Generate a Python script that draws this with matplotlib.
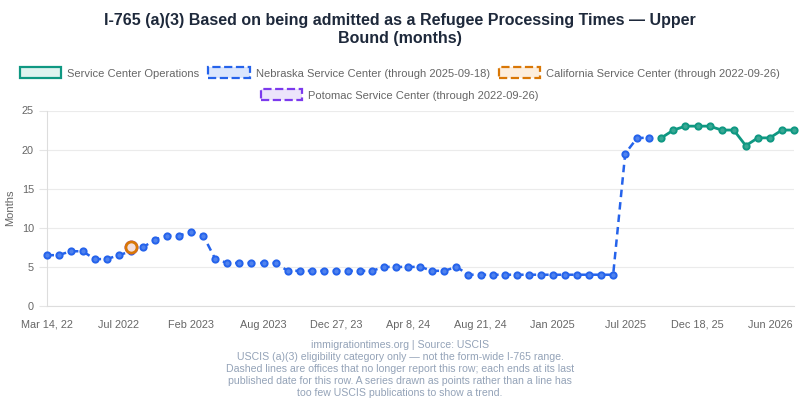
import matplotlib
matplotlib.use("Agg")
import matplotlib.pyplot as plt
from matplotlib.patches import Patch

plt.rcParams['font.family'] = ['Liberation Sans', 'DejaVu Sans']

# values (months, upper bound)
nebraska = [6.5, 6.5, 7, 7, 6, 6, 6.5, 7, 7.5, 8.5, 9, 9, 9.5, 9, 6, 5.5, 5.5, 5.5, 5.5,
            5.5, 4.5, 4.5, 4.5, 4.5, 4.5, 4.5, 4.5, 4.5, 5, 5, 5, 5, 4.5, 4.5, 5,
            4, 4, 4, 4, 4, 4, 4, 4, 4, 4, 4, 4, 4, 19.5, 21.5, 21.5]
operations = [21.5, 22.5, 23, 23, 23, 22.5, 22.5, 20.5, 21.5, 21.5, 22.5, 22.5]
california = [7.5]
potomac = [7.5]
california_idx = [7]
potomac_idx = [7]
tick_labels = ["Mar 14, 22", "Jul 2022", "Feb 2023", "Aug 2023", "Dec 27, 23", "Apr 8, 24",
               "Aug 21, 24", "Jan 2025", "Jul 2025", "Dec 18, 25", "Jun 2026"]

n_total = len(nebraska) + len(operations)
neb_x = list(range(len(nebraska)))
ops_x = list(range(len(nebraska), n_total))

BLUE = "#2563eb"
TEAL = "#0f9882"
ORANGE = "#d97706"
PURPLE = "#7c3aed"

fig = plt.figure(figsize=(8, 4), dpi=100)
ax = fig.add_axes([46.5 / 800, 94 / 400, 747.5 / 800, 195.5 / 400])

ax.plot(neb_x, nebraska, color=BLUE, lw=1.8, dashes=(3, 2), marker="o", ms=4.5,
        mfc="#4f82ee", mec=BLUE, mew=1.4, clip_on=False, zorder=3)
ax.plot(ops_x, operations, color=TEAL, lw=2, marker="o", ms=4.5,
        mfc="#3aa894", mec=TEAL, mew=1.4, clip_on=False, zorder=3)
ax.plot(potomac_idx, potomac, ls="none", marker="o", ms=8, mfc="#ece4fb",
        mec=PURPLE, mew=2, zorder=4)
ax.plot(california_idx, california, ls="none", marker="o", ms=8, mfc="#f3dede",
        mec=ORANGE, mew=2, zorder=5)

ax.set_xlim(0, n_total - 1)
ax.set_ylim(0, 25)
ax.set_yticks([0, 5, 10, 15, 20, 25])
ax.set_xticks(range(0, n_total, 6))
ax.set_xticklabels(tick_labels)
ax.tick_params(axis="x", length=0, pad=15.5, labelsize=7.8, colors="#666666")
for lbl in ax.get_xticklabels():
    lbl.set_verticalalignment("baseline")
ax.tick_params(axis="y", length=6, width=0.8, color="#e5e5e5", pad=3,
               labelsize=7.8, labelcolor="#666666")
ax.grid(axis="y", color="#ebebeb", lw=0.8)
ax.set_axisbelow(True)
for side in ["top", "right"]:
    ax.spines[side].set_visible(False)
for side in ["left", "bottom"]:
    ax.spines[side].set_color("#dddddd")
    ax.spines[side].set_linewidth(0.8)
ax.set_ylabel("Months", fontsize=8, color="#666666", labelpad=5)

fig.text(0.5, 1 - 20 / 400, "I-765 (a)(3) Based on being admitted as a Refugee Processing Times \u2014 Upper",
         ha="center", va="center", fontsize=11.5, fontweight="bold", color="#1e293b")
fig.text(0.5, 1 - 39 / 400, "Bound (months)",
         ha="center", va="center", fontsize=11.5, fontweight="bold", color="#1e293b")

def box(face, edge, ls):
    return Patch(facecolor=face, edgecolor=edge, linestyle=ls, linewidth=1.6)

row1 = [box("#dff3ef", TEAL, "-"), box("#dbe6fd", BLUE, "--"), box("#fdeedd", ORANGE, "--")]
row1_labels = ["Service Center Operations", "Nebraska Service Center (through 2025-09-18)",
               "California Service Center (through 2022-09-26)"]
fig.legend(row1, row1_labels, loc="center", bbox_to_anchor=(0.5, 1 - 73 / 400),
           ncol=3, frameon=False, fontsize=8, labelcolor="#666666", borderpad=0,
           handlelength=3.7, handleheight=1.1, handletextpad=0.55, columnspacing=0.8)
fig.legend([box("#ece4fb", PURPLE, "--")], ["Potomac Service Center (through 2022-09-26)"],
           loc="center", bbox_to_anchor=(0.5, 1 - 95 / 400), frameon=False, fontsize=8,
           labelcolor="#666666", borderpad=0, handlelength=3.7, handleheight=1.1,
           handletextpad=0.55)

footer = ["immigrationtimes.org | Source: USCIS",
          "USCIS (a)(3) eligibility category only \u2014 not the form-wide I-765 range.",
          "Dashed lines are offices that no longer report this row; each ends at its last",
          "published date for this row. A series drawn as points rather than a line has",
          "too few USCIS publications to show a trend."]
for i, line in enumerate(footer):
    fig.text(0.5, 1 - (345 + 12 * i) / 400, line, ha="center", va="center",
             fontsize=7.6, color="#94a3b8")

fig.savefig("out.png", dpi=100)
